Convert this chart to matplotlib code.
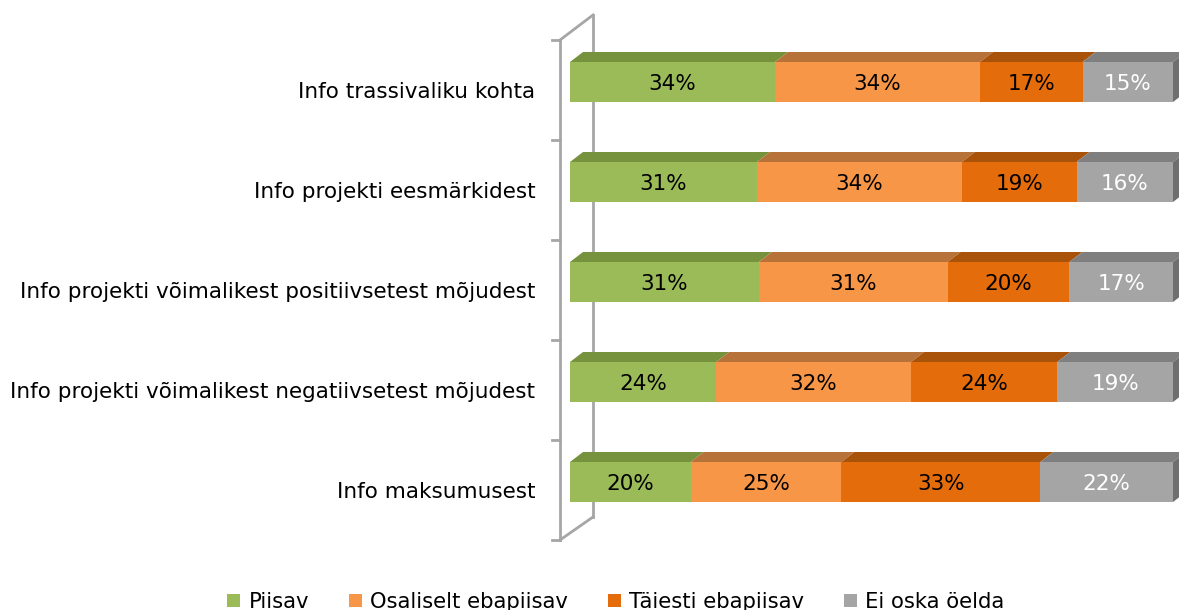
import numpy as np
import matplotlib.pyplot as plt
from matplotlib.patches import Polygon, Patch

plt.rcParams['font.family'] = ['DejaVu Sans']

categories = ['Info trassivaliku kohta',
              'Info projekti eesmärkidest',
              'Info projekti võimalikest positiivsetest mõjudest',
              'Info projekti võimalikest negatiivsetest mõjudest',
              'Info maksumusest']
series = ['Piisav', 'Osaliselt ebapiisav', 'Täiesti ebapiisav', 'Ei oska öelda']
piisav = [34, 31, 31, 24, 20]
osaliselt = [34, 34, 31, 32, 25]
taiesti = [17, 19, 20, 24, 33]
ei_oska = [15, 16, 17, 19, 22]

front_cols = ['#9BBB59', '#F79646', '#E46C0A', '#A5A5A5']
top_cols = ['#76923C', '#B7723A', '#A9530A', '#7F7F7F']
side_col = '#6E6E6E'
text_cols = ['black', 'black', 'black', 'white']

W, H = 1179, 610
fig = plt.figure(figsize=(W / 100, H / 100), dpi=100)
# plot area in pixels: x 570..1173, y 40..540
ax = fig.add_axes([570 / W, (H - 540) / H, 603 / W, 500 / H])

vals = np.array([piisav, osaliselt, taiesti, ei_oska], dtype=float)
shares = vals / vals.sum(axis=0) * 100  # 100% stacked

n = len(categories)
ypos = np.arange(n) - 0.08
bh = 0.4
dx = 13 / 6.03   # depth in data units (x)
dy = 0.1         # depth in data units (y)

# the 3D "wall" on the left
wall = dict(color='#A6A6A6', lw=2, transform=ax.transAxes, clip_on=False, zorder=0)
fx, bx = -10 / 603, 23 / 603
ax.plot([fx, fx], [0, 1], **wall)
ax.plot([bx, bx], [0.046, 1.05], **wall)
ax.plot([fx, bx], [1, 1.05], **wall)
ax.plot([fx, bx], [0, 0.046], **wall)
for k in range(n + 1):
    ax.plot([-18 / 603, fx], [k / n, k / n], **wall)

left = np.zeros(n)
for j in range(len(series)):
    w = shares[j]
    ax.barh(ypos, w, left=left, height=bh, color=front_cols[j], zorder=3, label=series[j])
    for i in range(n):
        x0, x1 = left[i], left[i] + w[i]
        yt = ypos[i] - bh / 2
        ax.add_patch(Polygon([(x0, yt), (x1, yt), (x1 + dx, yt - dy), (x0 + dx, yt - dy)],
                             closed=True, facecolor=top_cols[j], edgecolor='none',
                             zorder=2, clip_on=False))
        if j == len(series) - 1:
            yb = ypos[i] + bh / 2
            ax.add_patch(Polygon([(x1, yt), (x1, yb), (x1 + dx, yb - dy), (x1 + dx, yt - dy)],
                                 closed=True, facecolor=side_col, edgecolor='none',
                                 zorder=2, clip_on=False))
        ax.text((x0 + x1) / 2, ypos[i] + 0.02, '%d%%' % vals[j][i], ha='center', va='center',
                fontsize=15.5, color=text_cols[j], zorder=5)
    left = left + w

ax.set_xlim(0, 100)
ax.set_ylim(n - 0.5, -0.5)
ax.set_yticks(range(n))
ax.set_yticklabels(categories, fontsize=15.5)
ax.tick_params(axis='y', length=0, pad=25)
ax.set_xticks([])
for s in ax.spines.values():
    s.set_visible(False)
ax.patch.set_alpha(0)

handles = [Patch(facecolor=c, edgecolor='none') for c in front_cols]
fig.legend(handles, series, loc='center', bbox_to_anchor=(616 / W, 1 - 602 / H), ncol=4,
           frameon=False, fontsize=15.2, handlelength=0.6, handleheight=0.6,
           handletextpad=0.4, columnspacing=1.9)

fig.savefig('out.png', dpi=100)
